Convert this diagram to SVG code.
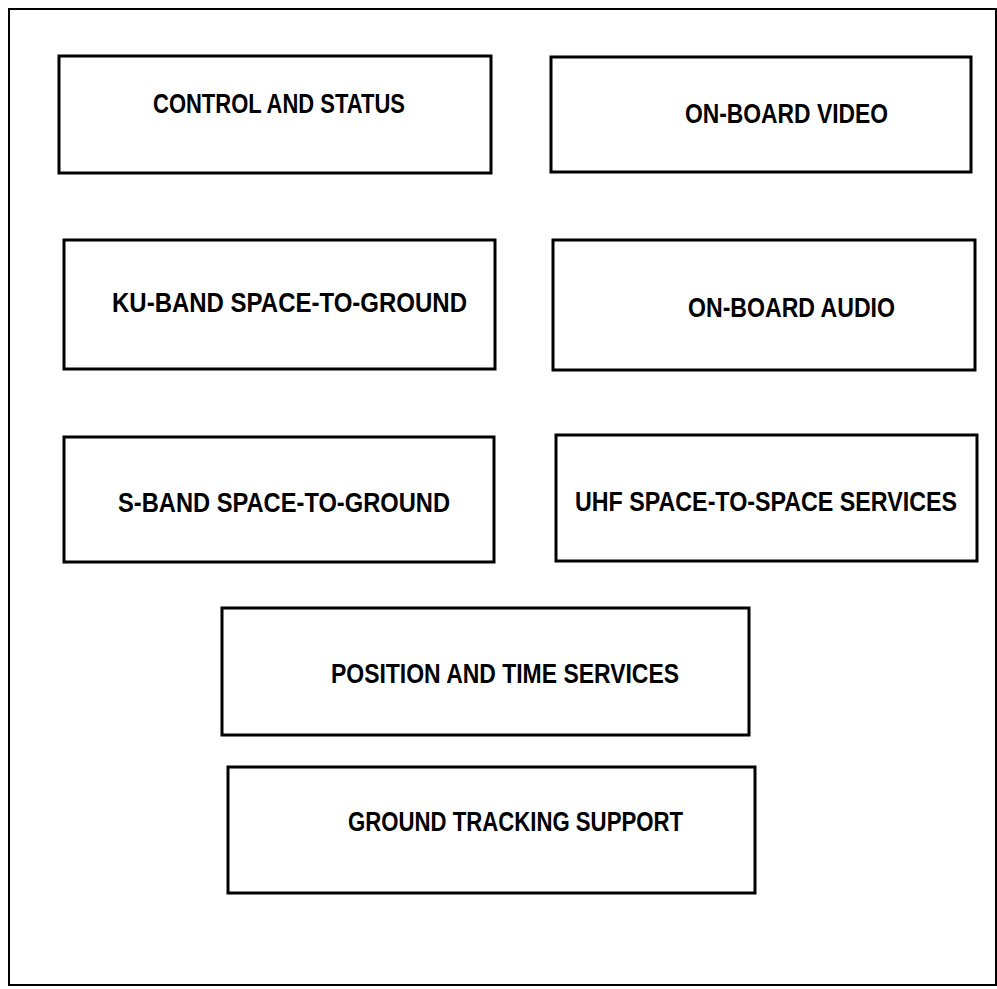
<svg xmlns="http://www.w3.org/2000/svg" width="997" height="989" viewBox="0 0 997 989">
  <style>
    .frame { fill: none; stroke: #000; stroke-width: 2; }
    .box { fill: #fff; stroke: #000; stroke-width: 3; }
    .label { font-family: "Liberation Sans", Arial, sans-serif; font-size: 27px; font-weight: bold; fill: #000; }
  </style>
  <rect width="997" height="989" fill="#fff"/>
  <!-- outer border -->
  <rect class="frame" x="9" y="9" width="987" height="976"/>

  <g id="control-and-status">
    <rect class="box" x="59" y="56" width="432" height="117"/>
    <text class="label" x="153" y="113" textLength="252" lengthAdjust="spacingAndGlyphs">CONTROL AND STATUS</text>
  </g>
  <g id="on-board-video">
    <rect class="box" x="551" y="57" width="420" height="115"/>
    <text class="label" x="685" y="123" textLength="203" lengthAdjust="spacingAndGlyphs">ON-BOARD VIDEO</text>
  </g>
  <g id="ku-band-space-to-ground">
    <rect class="box" x="64" y="240" width="431" height="129"/>
    <text class="label" x="112" y="312" textLength="355" lengthAdjust="spacingAndGlyphs">KU-BAND SPACE-TO-GROUND</text>
  </g>
  <g id="on-board-audio">
    <rect class="box" x="553" y="240" width="422" height="130"/>
    <text class="label" x="688" y="317" textLength="207" lengthAdjust="spacingAndGlyphs">ON-BOARD AUDIO</text>
  </g>
  <g id="s-band-space-to-ground">
    <rect class="box" x="64" y="437" width="430" height="125"/>
    <text class="label" x="118" y="512" textLength="332" lengthAdjust="spacingAndGlyphs">S-BAND SPACE-TO-GROUND</text>
  </g>
  <g id="uhf-space-to-space-services">
    <rect class="box" x="556" y="435" width="421" height="126"/>
    <text class="label" x="575" y="511" textLength="382" lengthAdjust="spacingAndGlyphs">UHF SPACE-TO-SPACE SERVICES</text>
  </g>
  <g id="position-and-time-services">
    <rect class="box" x="222" y="608" width="527" height="127"/>
    <text class="label" x="331" y="683" textLength="348" lengthAdjust="spacingAndGlyphs">POSITION AND TIME SERVICES</text>
  </g>
  <g id="ground-tracking-support">
    <rect class="box" x="228" y="767" width="527" height="126"/>
    <text class="label" x="348" y="831" textLength="335" lengthAdjust="spacingAndGlyphs">GROUND TRACKING SUPPORT</text>
  </g>
  <g id="connectors"></g>
</svg>
